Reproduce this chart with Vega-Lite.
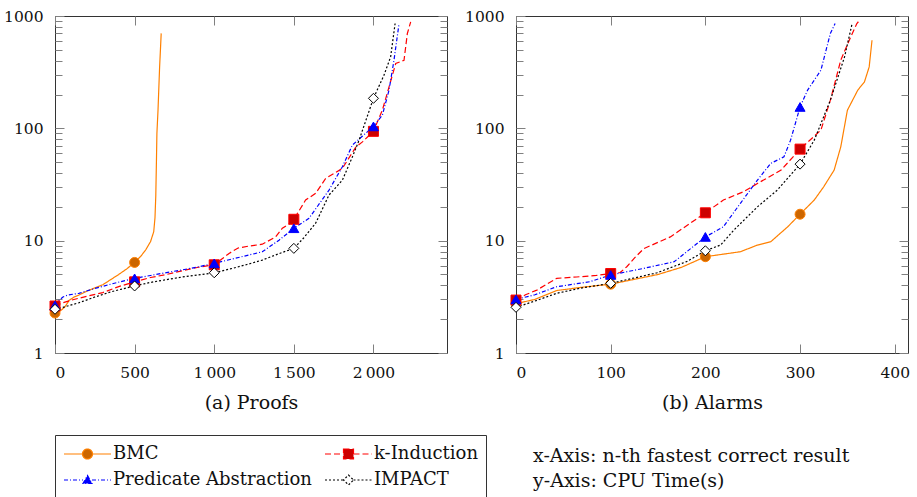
{
  "$schema": "https://vega.github.io/schema/vega-lite/v6.json",
  "padding": {"left": 3, "top": 8, "right": 0, "bottom": 0},
  "config": {
    "font": "DejaVu Serif",
    "view": {"stroke": "#333333", "strokeWidth": 1},
    "axis": {
      "domain": false,
      "ticks": false,
      "grid": true,
      "gridColor": "#808080",
      "gridOpacity": 1,
      "gridWidth": 1,
      "labelFont": "DejaVu Serif",
      "labelFontSize": 15.5,
      "labelColor": "#111111",
      "labelPadding": 12,
      "titleFont": "DejaVu Serif",
      "titleFontSize": 19,
      "titleFontWeight": "normal",
      "titleColor": "#111111"
    },
    "legend": {
      "labelFont": "DejaVu Serif",
      "labelFontSize": 18,
      "labelColor": "#111111"
    }
  },
  "datasets": {
    "proofs": [
      {"s": "BMC", "n": 0, "t": 2.27}, {"s": "BMC", "n": 30, "t": 2.35}, {"s": "BMC", "n": 60, "t": 2.55}, {"s": "BMC", "n": 90, "t": 2.95}, {"s": "BMC", "n": 120, "t": 3.15}, {"s": "BMC", "n": 150, "t": 3.28}, {"s": "BMC", "n": 200, "t": 3.55}, {"s": "BMC", "n": 250, "t": 3.8}, {"s": "BMC", "n": 300, "t": 4.05}, {"s": "BMC", "n": 350, "t": 4.5}, {"s": "BMC", "n": 400, "t": 5.0}, {"s": "BMC", "n": 450, "t": 5.6}, {"s": "BMC", "n": 500, "t": 6.4}, {"s": "BMC", "n": 540, "t": 7.3}, {"s": "BMC", "n": 570, "t": 8.3}, {"s": "BMC", "n": 600, "t": 9.8}, {"s": "BMC", "n": 620, "t": 12}, {"s": "BMC", "n": 628, "t": 16}, {"s": "BMC", "n": 633, "t": 25}, {"s": "BMC", "n": 637, "t": 50}, {"s": "BMC", "n": 640, "t": 90}, {"s": "BMC", "n": 647, "t": 145}, {"s": "BMC", "n": 657, "t": 350}, {"s": "BMC", "n": 667, "t": 700},
      {"s": "k-Induction", "n": 0, "t": 2.62}, {"s": "k-Induction", "n": 50, "t": 2.8}, {"s": "k-Induction", "n": 100, "t": 2.95}, {"s": "k-Induction", "n": 200, "t": 3.2}, {"s": "k-Induction", "n": 300, "t": 3.45}, {"s": "k-Induction", "n": 400, "t": 3.9}, {"s": "k-Induction", "n": 500, "t": 4.3}, {"s": "k-Induction", "n": 600, "t": 4.7}, {"s": "k-Induction", "n": 700, "t": 5.0}, {"s": "k-Induction", "n": 800, "t": 5.4}, {"s": "k-Induction", "n": 900, "t": 5.8}, {"s": "k-Induction", "n": 1000, "t": 6.1}, {"s": "k-Induction", "n": 1050, "t": 6.9}, {"s": "k-Induction", "n": 1093, "t": 7.7}, {"s": "k-Induction", "n": 1150, "t": 8.6}, {"s": "k-Induction", "n": 1218, "t": 8.95}, {"s": "k-Induction", "n": 1302, "t": 9.3}, {"s": "k-Induction", "n": 1386, "t": 10.8}, {"s": "k-Induction", "n": 1428, "t": 12.9}, {"s": "k-Induction", "n": 1470, "t": 14.1}, {"s": "k-Induction", "n": 1500, "t": 15.5}, {"s": "k-Induction", "n": 1574, "t": 23}, {"s": "k-Induction", "n": 1637, "t": 26.4}, {"s": "k-Induction", "n": 1700, "t": 35.8}, {"s": "k-Induction", "n": 1805, "t": 44}, {"s": "k-Induction", "n": 1889, "t": 68}, {"s": "k-Induction", "n": 1931, "t": 75.8}, {"s": "k-Induction", "n": 2000, "t": 94}, {"s": "k-Induction", "n": 2056, "t": 145}, {"s": "k-Induction", "n": 2098, "t": 234}, {"s": "k-Induction", "n": 2140, "t": 378}, {"s": "k-Induction", "n": 2192, "t": 404}, {"s": "k-Induction", "n": 2213, "t": 699}, {"s": "k-Induction", "n": 2234, "t": 887},
      {"s": "Predicate Abstraction", "n": 0, "t": 2.65}, {"s": "Predicate Abstraction", "n": 20, "t": 2.9}, {"s": "Predicate Abstraction", "n": 50, "t": 3.15}, {"s": "Predicate Abstraction", "n": 80, "t": 3.28}, {"s": "Predicate Abstraction", "n": 150, "t": 3.4}, {"s": "Predicate Abstraction", "n": 250, "t": 3.75}, {"s": "Predicate Abstraction", "n": 350, "t": 4.1}, {"s": "Predicate Abstraction", "n": 450, "t": 4.45}, {"s": "Predicate Abstraction", "n": 500, "t": 4.62}, {"s": "Predicate Abstraction", "n": 600, "t": 4.9}, {"s": "Predicate Abstraction", "n": 700, "t": 5.2}, {"s": "Predicate Abstraction", "n": 800, "t": 5.5}, {"s": "Predicate Abstraction", "n": 900, "t": 5.85}, {"s": "Predicate Abstraction", "n": 1000, "t": 6.28}, {"s": "Predicate Abstraction", "n": 1100, "t": 6.8}, {"s": "Predicate Abstraction", "n": 1218, "t": 7.45}, {"s": "Predicate Abstraction", "n": 1302, "t": 7.97}, {"s": "Predicate Abstraction", "n": 1407, "t": 10.1}, {"s": "Predicate Abstraction", "n": 1500, "t": 12.9}, {"s": "Predicate Abstraction", "n": 1595, "t": 15.8}, {"s": "Predicate Abstraction", "n": 1721, "t": 28.2}, {"s": "Predicate Abstraction", "n": 1805, "t": 45.5}, {"s": "Predicate Abstraction", "n": 1868, "t": 71}, {"s": "Predicate Abstraction", "n": 1930, "t": 85}, {"s": "Predicate Abstraction", "n": 2000, "t": 104}, {"s": "Predicate Abstraction", "n": 2056, "t": 131}, {"s": "Predicate Abstraction", "n": 2098, "t": 219}, {"s": "Predicate Abstraction", "n": 2129, "t": 404}, {"s": "Predicate Abstraction", "n": 2161, "t": 857},
      {"s": "IMPACT", "n": 0, "t": 2.45}, {"s": "IMPACT", "n": 50, "t": 2.55}, {"s": "IMPACT", "n": 150, "t": 2.8}, {"s": "IMPACT", "n": 250, "t": 3.15}, {"s": "IMPACT", "n": 350, "t": 3.5}, {"s": "IMPACT", "n": 450, "t": 3.8}, {"s": "IMPACT", "n": 500, "t": 3.95}, {"s": "IMPACT", "n": 600, "t": 4.25}, {"s": "IMPACT", "n": 700, "t": 4.5}, {"s": "IMPACT", "n": 800, "t": 4.75}, {"s": "IMPACT", "n": 900, "t": 4.95}, {"s": "IMPACT", "n": 1000, "t": 5.18}, {"s": "IMPACT", "n": 1100, "t": 5.6}, {"s": "IMPACT", "n": 1200, "t": 6.1}, {"s": "IMPACT", "n": 1302, "t": 6.72}, {"s": "IMPACT", "n": 1400, "t": 7.6}, {"s": "IMPACT", "n": 1500, "t": 8.54}, {"s": "IMPACT", "n": 1560, "t": 10.5}, {"s": "IMPACT", "n": 1637, "t": 14.3}, {"s": "IMPACT", "n": 1721, "t": 25.5}, {"s": "IMPACT", "n": 1805, "t": 34.6}, {"s": "IMPACT", "n": 1868, "t": 55.8}, {"s": "IMPACT", "n": 1910, "t": 78.5}, {"s": "IMPACT", "n": 2000, "t": 185}, {"s": "IMPACT", "n": 2066, "t": 297}, {"s": "IMPACT", "n": 2108, "t": 433}, {"s": "IMPACT", "n": 2136, "t": 857}
    ],
    "alarms": [
      {"s": "BMC", "n": 0, "t": 2.75}, {"s": "BMC", "n": 20, "t": 3.0}, {"s": "BMC", "n": 43, "t": 3.6}, {"s": "BMC", "n": 70, "t": 3.85}, {"s": "BMC", "n": 100, "t": 4.1}, {"s": "BMC", "n": 150, "t": 5.0}, {"s": "BMC", "n": 175, "t": 5.8}, {"s": "BMC", "n": 200, "t": 7.2}, {"s": "BMC", "n": 237, "t": 7.97}, {"s": "BMC", "n": 255, "t": 9.14}, {"s": "BMC", "n": 269, "t": 9.78}, {"s": "BMC", "n": 287, "t": 13.3}, {"s": "BMC", "n": 300, "t": 17.2}, {"s": "BMC", "n": 315, "t": 23}, {"s": "BMC", "n": 325, "t": 30.2}, {"s": "BMC", "n": 336, "t": 42.5}, {"s": "BMC", "n": 343, "t": 68.4}, {"s": "BMC", "n": 350, "t": 145}, {"s": "BMC", "n": 361, "t": 219}, {"s": "BMC", "n": 368, "t": 259}, {"s": "BMC", "n": 373, "t": 352}, {"s": "BMC", "n": 376, "t": 609},
      {"s": "k-Induction", "n": 0, "t": 2.96}, {"s": "k-Induction", "n": 10, "t": 3.3}, {"s": "k-Induction", "n": 22, "t": 3.63}, {"s": "k-Induction", "n": 43, "t": 4.62}, {"s": "k-Induction", "n": 64, "t": 4.75}, {"s": "k-Induction", "n": 85, "t": 4.9}, {"s": "k-Induction", "n": 100, "t": 5.1}, {"s": "k-Induction", "n": 110, "t": 5.2}, {"s": "k-Induction", "n": 117, "t": 5.86}, {"s": "k-Induction", "n": 125, "t": 7}, {"s": "k-Induction", "n": 135, "t": 8.5}, {"s": "k-Induction", "n": 163, "t": 10.8}, {"s": "k-Induction", "n": 200, "t": 17.7}, {"s": "k-Induction", "n": 219, "t": 23}, {"s": "k-Induction", "n": 240, "t": 27.2}, {"s": "k-Induction", "n": 255, "t": 32.3}, {"s": "k-Induction", "n": 280, "t": 42.5}, {"s": "k-Induction", "n": 300, "t": 65.3}, {"s": "k-Induction", "n": 322, "t": 96.4}, {"s": "k-Induction", "n": 332, "t": 178}, {"s": "k-Induction", "n": 343, "t": 404}, {"s": "k-Induction", "n": 352, "t": 609}, {"s": "k-Induction", "n": 360, "t": 857}, {"s": "k-Induction", "n": 363, "t": 918},
      {"s": "Predicate Abstraction", "n": 0, "t": 3.0}, {"s": "Predicate Abstraction", "n": 20, "t": 3.3}, {"s": "Predicate Abstraction", "n": 43, "t": 3.89}, {"s": "Predicate Abstraction", "n": 78, "t": 4.31}, {"s": "Predicate Abstraction", "n": 100, "t": 4.95}, {"s": "Predicate Abstraction", "n": 135, "t": 5.67}, {"s": "Predicate Abstraction", "n": 167, "t": 6.49}, {"s": "Predicate Abstraction", "n": 200, "t": 10.8}, {"s": "Predicate Abstraction", "n": 219, "t": 13.3}, {"s": "Predicate Abstraction", "n": 237, "t": 21.5}, {"s": "Predicate Abstraction", "n": 255, "t": 34.6}, {"s": "Predicate Abstraction", "n": 269, "t": 48.7}, {"s": "Predicate Abstraction", "n": 283, "t": 55.8}, {"s": "Predicate Abstraction", "n": 290, "t": 78.5}, {"s": "Predicate Abstraction", "n": 300, "t": 155}, {"s": "Predicate Abstraction", "n": 308, "t": 219}, {"s": "Predicate Abstraction", "n": 322, "t": 329}, {"s": "Predicate Abstraction", "n": 332, "t": 699}, {"s": "Predicate Abstraction", "n": 337, "t": 857},
      {"s": "IMPACT", "n": 0, "t": 2.55}, {"s": "IMPACT", "n": 20, "t": 2.9}, {"s": "IMPACT", "n": 43, "t": 3.4}, {"s": "IMPACT", "n": 70, "t": 3.8}, {"s": "IMPACT", "n": 100, "t": 4.17}, {"s": "IMPACT", "n": 149, "t": 5.18}, {"s": "IMPACT", "n": 180, "t": 6.5}, {"s": "IMPACT", "n": 200, "t": 8.13}, {"s": "IMPACT", "n": 216, "t": 9.14}, {"s": "IMPACT", "n": 230, "t": 12.4}, {"s": "IMPACT", "n": 255, "t": 20}, {"s": "IMPACT", "n": 276, "t": 28.2}, {"s": "IMPACT", "n": 300, "t": 48}, {"s": "IMPACT", "n": 315, "t": 78.5}, {"s": "IMPACT", "n": 332, "t": 178}, {"s": "IMPACT", "n": 347, "t": 433}, {"s": "IMPACT", "n": 355, "t": 857}
    ]
  },
  "spacing": 16,
  "resolve": {"scale": {"x": "independent", "y": "independent", "color": "shared", "strokeDash": "shared", "shape": "shared", "fill": "shared", "stroke": "shared"}},
  "hconcat": [
    {
      "width": 392,
      "height": 337,
      "data": {"name": "proofs"},
      "layer": [
        {
          "mark": {"type": "line", "strokeWidth": 1.2},
          "encoding": {
            "x": {"field": "n", "type": "quantitative", "scale": {"domain": [0, 2462], "nice": false},
              "axis": {"orient": "bottom", "values": [0, 500, 1000, 1500, 2000], "labelExpr": "replace(format(datum.value, ','), ',', '\u2009')", "gridDash": [9, 319, 9, 2000], "title": "(a) Proofs", "titlePadding": 13}},
            "y": {"field": "t", "type": "quantitative", "scale": {"type": "log", "domain": [1, 1000], "nice": false},
              "axis": {"orient": "left", "values": [1,2,3,4,5,6,7,8,9,10,20,30,40,50,60,70,80,90,100,200,300,400,500,600,700,800,900,1000], "labelExpr": "indexof([1,10,100,1000], datum.value) >= 0 ? format(datum.value, 'd') : ''", "gridDash": {"condition": {"test": "indexof([1,10,100,1000], datum.value) >= 0", "value": [9, 374, 9, 2000]}, "value": [7, 378, 7, 2000]}, "title": null}},
            "color": {"field": "s", "type": "nominal",
              "scale": {"domain": ["BMC", "k-Induction", "Predicate Abstraction", "IMPACT"], "range": ["#ff8000", "#ff0000", "#0000ff", "#000000"]},
              "legend": {
                "title": null, "orient": "none", "legendX": 0, "legendY": 419, "columns": 2, "direction": "horizontal",
                "strokeColor": "#333333", "padding": 8, "symbolSize": 400, "symbolOffset": 13.5, "labelOffset": 14.5,
                "rowPadding": 6, "columnPadding": 10, "symbolStrokeWidth": 1.2, "labelLimit": 300,
                "encode": {
                  "symbols": {
                    "update": {
                      "shape": [
                        {"test": "datum.value === 'BMC'", "value": "M-2.35,0H-0.5M0.5,0H2.35M0.5,0A0.5,0.5,0,1,1,-0.5,0A0.5,0.5,0,1,1,0.5,0Z"},
                        {"test": "datum.value === 'k-Induction'", "value": "M-2.35,0H-0.5M0.5,0H2.35M-0.5,-0.5H0.5V0.5H-0.5Z"},
                        {"test": "datum.value === 'Predicate Abstraction'", "value": "M-2.35,0H-0.45M0.45,0H2.35M0,-0.45L0.45,0.35H-0.45Z"},
                        {"value": "M-2.35,0H-0.5M0.5,0H2.35M0,-0.5L0.5,0L0,0.5L-0.5,0Z"}
                      ],
                      "fill": [
                        {"test": "datum.value === 'BMC'", "value": "#cc6600"},
                        {"test": "datum.value === 'k-Induction'", "value": "#cc0000"},
                        {"test": "datum.value === 'Predicate Abstraction'", "value": "#0000ff"},
                        {"value": "#ffffff"}
                      ],
                      "strokeDash": [
                        {"test": "datum.value === 'k-Induction'", "value": [6, 3]},
                        {"test": "datum.value === 'Predicate Abstraction'", "value": [4, 2, 1, 2]},
                        {"test": "datum.value === 'IMPACT'", "value": [2, 2]},
                        {"value": [1, 0]}
                      ]
                    }
                  }
                }
              }},
            "strokeDash": {"field": "s", "type": "nominal", "scale": {"domain": ["BMC", "k-Induction", "Predicate Abstraction", "IMPACT"], "range": [[1, 0], [6, 3], [4, 2, 1, 2], [2, 2]]}, "legend": null},
            "order": {"field": "n", "type": "quantitative"}
          }
        },
        {
          "transform": [{"filter": "datum.n % 500 === 0"}],
          "mark": {"type": "point", "filled": true, "size": 100, "strokeWidth": 1, "opacity": 1},
          "encoding": {
            "x": {"field": "n", "type": "quantitative", "axis": null},
            "y": {"field": "t", "type": "quantitative", "axis": null},
            "shape": {"field": "s", "type": "nominal", "scale": {"domain": ["IMPACT", "Predicate Abstraction", "k-Induction", "BMC"], "range": ["diamond", "triangle-up", "square", "circle"]}, "legend": null},
            "fill": {"field": "s", "type": "nominal", "scale": {"domain": ["IMPACT", "Predicate Abstraction", "BMC", "k-Induction"], "range": ["#ffffff", "#0000ff", "#cc6600", "#cc0000"]}, "legend": null},
            "stroke": {"field": "s", "type": "nominal", "scale": {"domain": ["Predicate Abstraction", "IMPACT", "BMC", "k-Induction"], "range": ["#0000ff", "#000000", "#ff8000", "#ff0000"]}, "legend": null}
          }
        }
      ],
      "resolve": {"axis": {"x": "independent", "y": "independent"}}
    },
    {
      "width": 392,
      "height": 337,
      "data": {"name": "alarms"},
      "title": {"text": ["x-Axis: n-th fastest correct result", "y-Axis: CPU Time(s)"], "orient": "bottom", "anchor": "start", "frame": "group", "align": "left", "dx": 17, "offset": 34, "fontSize": 19, "fontWeight": "normal", "font": "DejaVu Serif", "lineHeight": 25, "color": "#111111"},
      "layer": [
        {
          "mark": {"type": "line", "strokeWidth": 1.2},
          "encoding": {
            "x": {"field": "n", "type": "quantitative", "scale": {"domain": [0, 414], "nice": false},
              "axis": {"orient": "bottom", "values": [0, 100, 200, 300, 400], "gridDash": [9, 319, 9, 2000], "title": "(b) Alarms", "titlePadding": 13}},
            "y": {"field": "t", "type": "quantitative", "scale": {"type": "log", "domain": [1, 1000], "nice": false},
              "axis": {"orient": "left", "values": [1,2,3,4,5,6,7,8,9,10,20,30,40,50,60,70,80,90,100,200,300,400,500,600,700,800,900,1000], "labelExpr": "indexof([1,10,100,1000], datum.value) >= 0 ? format(datum.value, 'd') : ''", "gridDash": {"condition": {"test": "indexof([1,10,100,1000], datum.value) >= 0", "value": [9, 374, 9, 2000]}, "value": [7, 378, 7, 2000]}, "title": null}},
            "color": {"field": "s", "type": "nominal", "scale": {"domain": ["BMC", "k-Induction", "Predicate Abstraction", "IMPACT"], "range": ["#ff8000", "#ff0000", "#0000ff", "#000000"]}},
            "strokeDash": {"field": "s", "type": "nominal", "scale": {"domain": ["BMC", "k-Induction", "Predicate Abstraction", "IMPACT"], "range": [[1, 0], [6, 3], [4, 2, 1, 2], [2, 2]]}, "legend": null},
            "order": {"field": "n", "type": "quantitative"}
          }
        },
        {
          "transform": [{"filter": "datum.n % 100 === 0"}],
          "mark": {"type": "point", "filled": true, "size": 100, "strokeWidth": 1, "opacity": 1},
          "encoding": {
            "x": {"field": "n", "type": "quantitative", "axis": null},
            "y": {"field": "t", "type": "quantitative", "axis": null},
            "shape": {"field": "s", "type": "nominal", "scale": {"domain": ["IMPACT", "Predicate Abstraction", "k-Induction", "BMC"], "range": ["diamond", "triangle-up", "square", "circle"]}, "legend": null},
            "fill": {"field": "s", "type": "nominal", "scale": {"domain": ["IMPACT", "Predicate Abstraction", "BMC", "k-Induction"], "range": ["#ffffff", "#0000ff", "#cc6600", "#cc0000"]}, "legend": null},
            "stroke": {"field": "s", "type": "nominal", "scale": {"domain": ["Predicate Abstraction", "IMPACT", "BMC", "k-Induction"], "range": ["#0000ff", "#000000", "#ff8000", "#ff0000"]}, "legend": null}
          }
        }
      ],
      "resolve": {"axis": {"x": "independent", "y": "independent"}}
    }
  ]
}
